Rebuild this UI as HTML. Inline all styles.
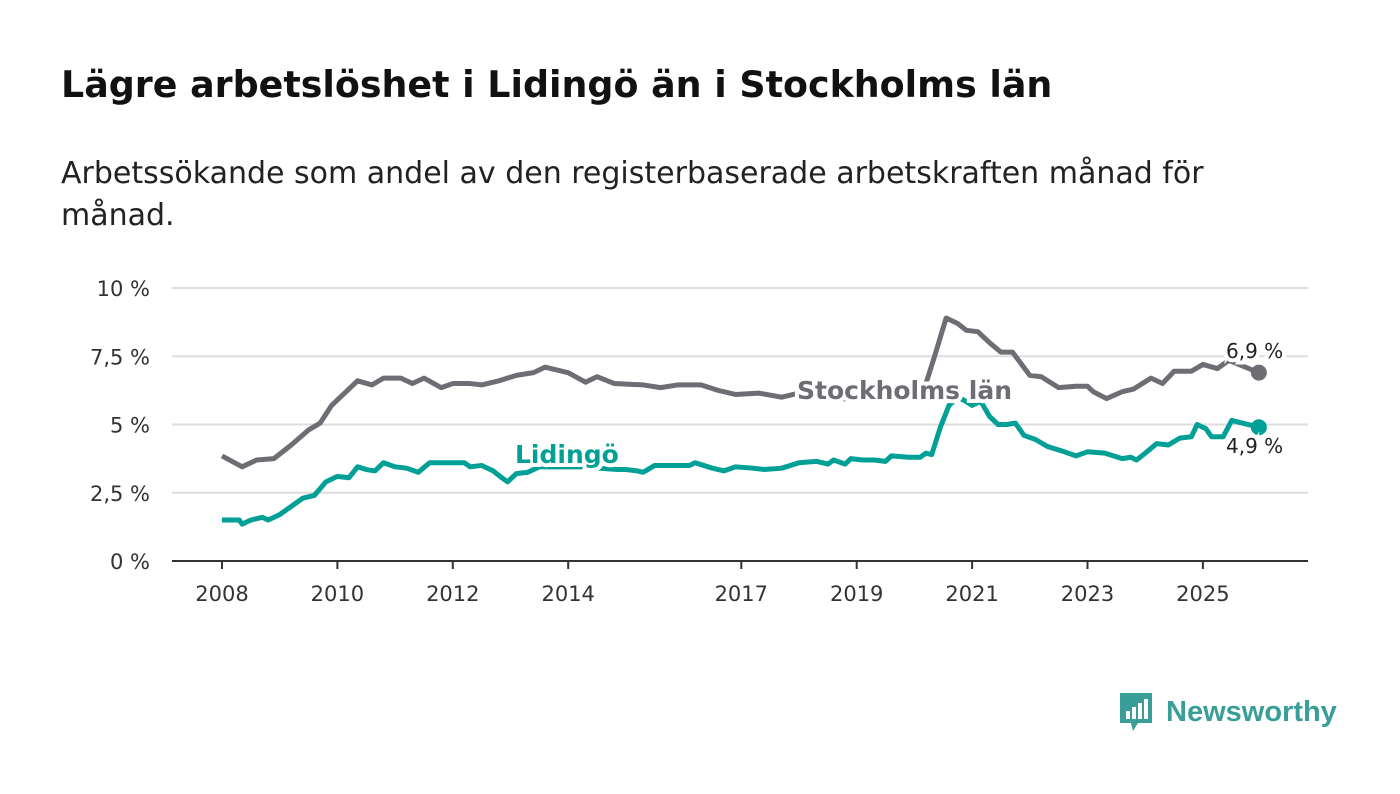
<!DOCTYPE html>
<html><head><meta charset="utf-8"><style>
body{margin:0;width:1400px;height:794px;background:#fff;font-family:"DejaVu Sans",sans-serif;overflow:hidden;position:relative}
h1{position:absolute;left:61px;top:63px;margin:0;font-size:36.4px;font-weight:bold;color:#111;white-space:nowrap}
p{position:absolute;left:61px;top:153px;margin:0;font-size:30px;line-height:42px;color:#222;width:1220px}
svg{position:absolute;left:0;top:0}
</style></head><body>
<h1>Lägre arbetslöshet i Lidingö än i Stockholms län</h1>
<p>Arbetssökande som andel av den registerbaserade arbetskraften månad för månad.</p>
<svg id="chart" width="1400" height="794"></svg>
<div style="position:absolute;left:1118px;top:691px;display:flex;align-items:center">
<svg width="36" height="42" style="position:static"><path d="M2 2h32v30H20l-5 8-2-8H2z" fill="#3a9e98"/><rect x="8" y="20" width="4" height="8" fill="#fff"/><rect x="14" y="16" width="4" height="12" fill="#fff"/><rect x="20" y="12" width="4" height="16" fill="#fff"/><rect x="26" y="8" width="4" height="20" fill="#fff"/></svg>
<span style="margin-left:12px;font-size:29px;color:#3a9e98;font-weight:bold;font-family:'Liberation Sans',sans-serif">Newsworthy</span></div>
<script>
const yTicks=[0,2.5,5,7.5,10];
const yTickLabels=["0 %","2,5 %","5 %","7,5 %","10 %"];
const xTicks=[2008,2010,2012,2014,2017,2019,2021,2023,2025];
const sthDates=[2008,2008.35,2008.6,2008.9,2009.2,2009.5,2009.7,2009.9,2010.1,2010.35,2010.6,2010.8,2011.1,2011.3,2011.5,2011.8,2012,2012.3,2012.5,2012.8,2013.1,2013.4,2013.6,2014,2014.3,2014.5,2014.8,2015.3,2015.6,2015.9,2016.3,2016.6,2016.9,2017.3,2017.7,2018,2018.5,2019,2019.5,2020,2020.2,2020.35,2020.45,2020.55,2020.75,2020.9,2021.1,2021.3,2021.5,2021.7,2022,2022.2,2022.5,2022.8,2023.0,2023.1,2023.33,2023.6,2023.8,2024.1,2024.3,2024.5,2024.8,2025.0,2025.25,2025.45,2025.97];
const sthValues=[3.85,3.45,3.7,3.75,4.25,4.8,5.05,5.7,6.1,6.6,6.45,6.7,6.7,6.5,6.7,6.35,6.5,6.5,6.45,6.6,6.8,6.9,7.1,6.9,6.55,6.75,6.5,6.45,6.35,6.45,6.45,6.25,6.1,6.15,6.0,6.15,6.0,5.9,5.95,6.0,6.5,7.5,8.2,8.9,8.7,8.45,8.4,8.0,7.65,7.65,6.8,6.75,6.35,6.4,6.4,6.2,5.95,6.2,6.3,6.7,6.5,6.95,6.95,7.2,7.05,7.35,6.9];
const lidDates=[2008,2008.3,2008.35,2008.5,2008.7,2008.8,2009,2009.2,2009.4,2009.6,2009.8,2010,2010.2,2010.35,2010.5,2010.65,2010.8,2011,2011.2,2011.4,2011.6,2011.8,2012,2012.2,2012.3,2012.5,2012.7,2012.85,2012.95,2013.1,2013.3,2013.5,2013.7,2014.2,2014.85,2015,2015.2,2015.3,2015.5,2015.8,2016.1,2016.2,2016.5,2016.7,2016.9,2017.2,2017.4,2017.7,2018,2018.3,2018.5,2018.6,2018.8,2018.9,2019.1,2019.3,2019.5,2019.6,2019.9,2020.1,2020.2,2020.3,2020.45,2020.6,2020.75,2020.85,2021,2021.15,2021.3,2021.45,2021.6,2021.75,2021.9,2022.1,2022.3,2022.6,2022.8,2023,2023.3,2023.6,2023.75,2023.85,2024,2024.2,2024.4,2024.6,2024.8,2024.9,2025.05,2025.15,2025.35,2025.5,2025.97];
const lidValues=[1.5,1.5,1.35,1.5,1.6,1.5,1.7,2.0,2.3,2.4,2.9,3.1,3.05,3.45,3.35,3.3,3.6,3.45,3.4,3.25,3.6,3.6,3.6,3.6,3.45,3.5,3.3,3.05,2.9,3.2,3.25,3.45,3.45,3.45,3.35,3.35,3.3,3.25,3.5,3.5,3.5,3.6,3.4,3.3,3.45,3.4,3.35,3.4,3.6,3.65,3.55,3.7,3.55,3.75,3.7,3.7,3.65,3.85,3.8,3.8,3.95,3.9,4.9,5.7,6.0,5.9,5.7,5.85,5.3,5.0,5.0,5.05,4.6,4.45,4.2,4.0,3.85,4.0,3.95,3.75,3.8,3.7,3.95,4.3,4.25,4.5,4.55,5.0,4.85,4.55,4.55,5.15,4.9];
const NS="http://www.w3.org/2000/svg";
const svg=document.getElementById('chart');
const X=d=>222+(d-2008)*57.7;
const Y=v=>561-v*27.3;
function mk(t,a){const e=document.createElementNS(NS,t);for(const k in a)e.setAttribute(k,a[k]);svg.appendChild(e);return e;}
yTicks.forEach((v,i)=>{
 const g=mk('line',{x1:172,x2:1308,y1:Y(v),y2:Y(v),stroke:v===0?'#333':'#ddd','stroke-width':2});
 
 
 const t=mk('text',{x:150,y:Y(v)+8,'text-anchor':'end','font-size':21,fill:'#333','font-family':'DejaVu Sans'});
 t.textContent=yTickLabels[i];
 
 
});
xTicks.forEach(d=>{
 const l=mk('line',{x1:X(d),x2:X(d),y1:561,y2:569,stroke:'#333','stroke-width':2});
 
 
 const t=mk('text',{x:X(d),y:601,'text-anchor':'middle','font-size':21,fill:'#333','font-family':'DejaVu Sans'});
 t.textContent=d;
 
 
});
function line(dates,vals,color,name){
 const p=mk('polyline',{points:dates.map((d,i)=>X(d)+','+Y(vals[i])).join(' '),fill:'none',stroke:color,'stroke-width':5,'stroke-linejoin':'round'});
 
 
 const n=dates.length-1;
 const c=mk('circle',{cx:X(dates[n]),cy:Y(vals[n]),r:8,fill:color});
 
 
}
line(sthDates,sthValues,'#6f6d73','stockholm-line');
line(lidDates,lidValues,'#00a096','lidingo-line');
function label(x,y,txt,color,name,size,weight){
 const t=mk('text',{x:x,y:y,'font-size':size,'font-weight':weight,fill:color,stroke:'#fff','stroke-width':8,'paint-order':'stroke','font-family':'DejaVu Sans'});
 t.textContent=txt;
 
 
}
label(797,399,'Stockholms län','#6f6d73','stockholm-label',25,'bold');
label(515,463,'Lidingö','#00a096','lidingo-label',25,'bold');
label(1226,358,'6,9 %','#222','stockholm-end-value',20,'normal');
label(1226,453,'4,9 %','#222','lidingo-end-value',20,'normal');
</script>
</body></html>
